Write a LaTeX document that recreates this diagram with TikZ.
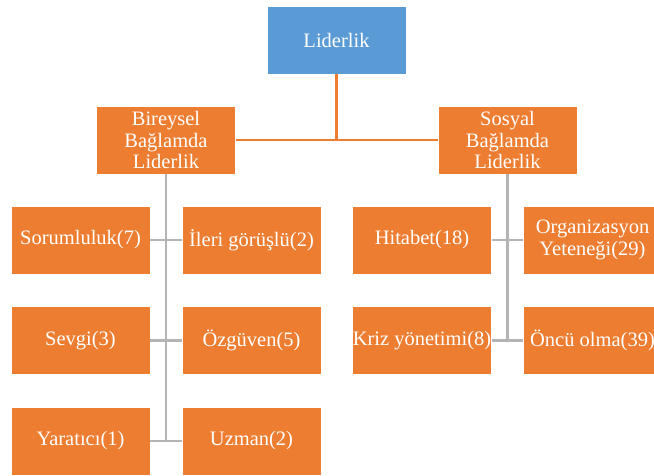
\documentclass[tikz,border=0pt]{standalone}
\usepackage{fontspec}
\setmainfont{Liberation Serif}
\definecolor{boxorange}{HTML}{ED7D31}
\definecolor{boxblue}{HTML}{5B9BD5}
\definecolor{linegray}{HTML}{B4B4B4}
\begin{document}
\begin{tikzpicture}[x=1pt,y=-1pt,
  card/.style={rectangle, fill=boxorange, draw=white, line width=0.8pt,
    minimum width=139pt, minimum height=68pt, inner sep=0pt, text=white,
    align=center, font=\fontsize{20.5}{21.5}\selectfont},
  topcard/.style={card, fill=boxblue},
  orangeline/.style={draw=boxorange, line width=2.4pt},
  grayline/.style={draw=linegray, line width=2.4pt}]
\useasboundingbox (0,0) rectangle (654,475);
\clip (0,0) rectangle (654,475);
\fill[white] (0,0) rectangle (654,475);
\coordinate (lbus) at (166,441);
\coordinate (rbus) at (507.5,340.5);
\node[topcard] (lid) at (336.5,40) {Liderlik};
\node[card] (bir) at (166,140) {Bireysel\\Bağlamda\\Liderlik};
\node[card] (sos) at (507.5,140) {Sosyal\\Bağlamda\\Liderlik};
\node[card] (sor) at (80.5,240) {Sorumluluk(7)};
\node[card] (ile) at (251.5,240) {İleri görüşlü(2)};
\node[card] (sev) at (80.5,340.5) {Sevgi(3)};
\node[card] (ozg) at (251.5,340.5) {Özgüven(5)};
\node[card] (yar) at (80.5,441) {Yaratıcı(1)};
\node[card] (uzm) at (251.5,441) {Uzman(2)};
\node[card] (hit) at (422,240) {Hitabet(18)};
\node[card] (org) at (592.5,240) {Organizasyon\\Yeteneği(29)};
\node[card] (kri) at (422,340.5) {Kriz yönetimi(8)};
\node[card] (onc) at (592.5,340.5) {Öncü olma(39)};
% orange connectors
\draw[orangeline] (lid.south) -- (lid.south |- bir.east);
\draw[orangeline] (bir.east) -- (sos.west);
% gray connectors left
\draw[grayline] (bir.south) -- (lbus);
\draw[grayline] (sor.east) -- (ile.west);
\draw[grayline] (sev.east) -- (ozg.west);
\draw[grayline] (yar.east) -- (uzm.west);
% gray connectors right
\draw[grayline] (sos.south) -- (rbus);
\draw[grayline] (hit.east) -- (org.west);
\draw[grayline] (kri.east) -- (onc.west);
\end{tikzpicture}
\end{document}
